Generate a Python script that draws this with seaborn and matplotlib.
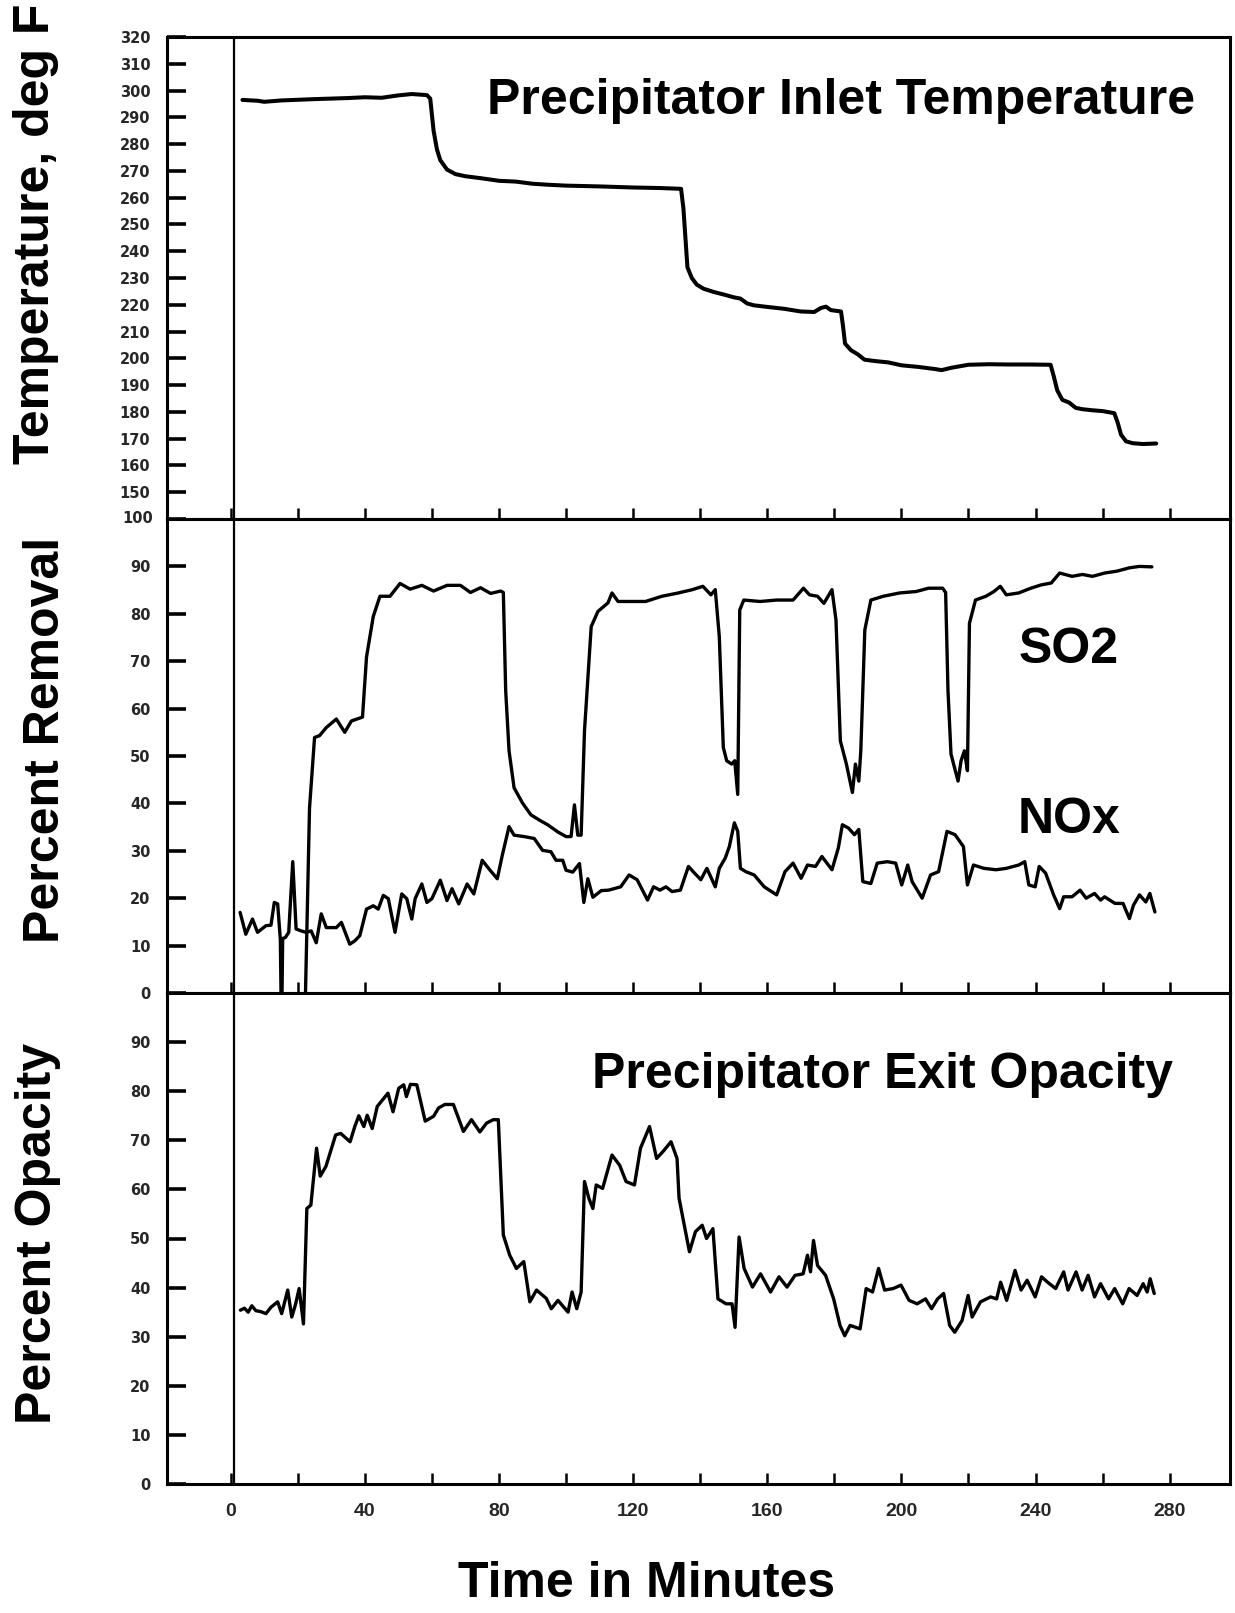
import matplotlib
matplotlib.use("Agg")
import matplotlib.pyplot as plt
import pandas as pd
import seaborn as sns

# ---------------- data ----------------
TEMPERATURE = [(3.5, 296.5), (8, 296.2), (10, 295.8), (15, 296.3), (25, 296.8), (35, 297.2),
               (40, 297.5), (45, 297.3), (50, 298.2), (54, 298.7), (58.5, 298.3), (59.5, 297),
               (60.5, 285), (61.5, 278), (62.5, 274), (64.5, 270.5), (67, 268.8), (70, 268),
               (75, 267.2), (80, 266.3), (85, 266), (90, 265.2), (95, 264.8), (100, 264.5),
               (110, 264.2), (120, 263.8), (128, 263.6), (134.3, 263.3), (135, 256), (135.6, 245),
               (136.2, 234), (137.5, 230), (139, 227.5), (141, 226), (144, 224.8), (148, 223.5),
               (150, 222.8), (152, 222.3), (154, 220.5), (156, 219.8), (160, 219.2), (165, 218.5),
               (170, 217.5), (174, 217.3), (176, 218.8), (177.5, 219.3), (179, 218), (182, 217.5),
               (182.6, 212), (183.2, 205.5), (185, 203), (187, 201.5), (189, 199.5), (192, 199),
               (196, 198.5), (200, 197.4), (205, 196.8), (210, 196), (212, 195.6), (215, 196.5),
               (220, 197.6), (226, 197.8), (232, 197.7), (238, 197.7), (244.5, 197.6), (245.5, 193),
               (246.5, 188), (248, 184.5), (250, 183.5), (252, 181.5), (254, 181), (257, 180.6),
               (260, 180.3), (263.5, 179.5), (264.5, 176), (265.5, 171.5), (267, 169), (269, 168.3),
               (272, 168), (276, 168.2)]

SO2 = [(22.3, 0), (23.5, 39), (25.0, 53.9), (26.5, 54.3), (28.5, 56), (31.5, 57.8), (34, 55),
       (36, 57.4), (39.3, 58.2), (40.5, 70.9), (42.5, 79.4), (44.5, 83.7), (47.5, 83.7),
       (50.5, 86.4), (53.5, 85.2), (57, 86), (60.5, 84.8), (64.5, 86), (68.5, 86), (71.5, 84.5),
       (74.5, 85.5), (77.5, 84.3), (80.5, 84.8), (81.3, 84.5), (82, 63.8), (83, 51.1), (84.5, 43.3),
       (87, 40.1), (89.5, 37.6), (92, 36.5), (94.5, 35.5), (97.5, 34), (100, 33), (101.5, 33),
       (102.5, 39.7), (103.5, 33.3), (104.5, 33.3), (105.5, 55.3), (107.5, 77.3), (109.5, 80.5),
       (112.5, 82.3), (113.7, 84.4), (115.5, 82.6), (119.5, 82.6), (123.7, 82.6), (128.6, 83.7),
       (133.5, 84.4), (137.7, 85.1), (140.8, 85.8), (143.2, 84), (144.5, 85.1), (145.7, 75.2),
       (146.9, 51.8), (147.9, 49), (149.4, 48.3), (150.3, 49), (151.2, 41.9), (151.8, 80.8),
       (153, 82.9), (157.9, 82.6), (162.8, 82.9), (167.7, 82.9), (170.8, 85.4), (172.6, 84),
       (175, 83.7), (176.9, 82.2), (179.3, 85.1), (180.5, 78.7), (181.8, 53.2), (183.6, 48.3),
       (185.4, 42.3), (186.3, 48.3), (187.3, 44.7), (187.9, 51.1), (189.1, 76.6), (190.9, 82.9),
       (194.6, 83.7), (199.5, 84.4), (204.4, 84.7), (208.1, 85.4), (212.3, 85.4), (213.2, 84.5),
       (213.9, 63.8), (214.8, 50.4), (216.9, 44.7), (217.8, 49), (218.8, 51.1), (219.7, 46.9),
       (220.3, 78), (222.1, 82.9), (225.2, 83.7), (227.6, 84.7), (229.5, 85.8), (231.3, 84),
       (235, 84.4), (238.6, 85.4), (241.7, 86.1), (244.7, 86.5), (247.2, 88.6), (250.9, 87.9),
       (254, 88.3), (257, 87.9), (260.6, 88.6), (264.3, 89), (268, 89.7), (271, 90), (274.7, 89.9)]

NOX = [(2.8, 17), (4.5, 12.4), (6.5, 15.6), (8, 12.8), (10.5, 14.2), (12, 14.3), (13, 19.1),
       (14, 18.8), (14.8, 11.3), (15.0, 0), (15.3, 0), (15.5, 11.5), (16.3, 11.7), (17.3, 12.8),
       (18.5, 27.7), (19.5, 13.5), (21, 13.1), (22.5, 12.8), (24, 13.1), (25.5, 10.6), (27, 16.7),
       (28.5, 13.8), (31.5, 13.8), (33, 14.9), (35.5, 10.3), (37, 11), (38.5, 12.1), (40.5, 17.7),
       (42.5, 18.4), (44, 17.7), (45.5, 20.6), (47, 19.9), (49, 12.8), (51, 20.9), (52.5, 19.9),
       (54, 15.6), (55, 19.9), (57, 23), (58.5, 19.1), (60, 19.9), (62.5, 23.8), (64.5, 19.5),
       (66, 22), (68, 18.8), (70.5, 23), (72.5, 20.9), (75, 28), (77, 26.2), (79.5, 24.1),
       (81, 29.1), (83, 35.1), (84.5, 33.3), (87.5, 33), (90.5, 32.6), (93, 30.1), (95.5, 29.8),
       (97, 28), (99, 28), (100, 25.9), (102, 25.5), (104, 27.3), (105.3, 19.1), (106.5, 24.1),
       (108, 20.2), (110.5, 21.6), (112.7, 21.7), (116.3, 22.4), (118.8, 24.9), (121.2, 23.9),
       (124.3, 19.6), (126.1, 22.4), (128, 21.7), (129.8, 22.4), (131.6, 21.4), (134.1, 21.7),
       (136.5, 26.7), (138.3, 25.3), (140.2, 23.9), (142, 26.3), (144.5, 22.4), (145.7, 26.3),
       (147.5, 28.5), (148.7, 30.9), (150.2, 35.9), (151.2, 34.1), (152, 26.3), (153.6, 25.6),
       (156.1, 24.9), (159.1, 22.4), (162.8, 20.7), (165.3, 25.6), (167.7, 27.4), (170.1, 24.2),
       (172, 27), (174.4, 26.7), (176.3, 28.8), (179.3, 26), (181.2, 30.6), (182.4, 35.5),
       (184.2, 34.8), (186, 33.4), (187.3, 34.5), (188.5, 23.5), (190.9, 23.1), (192.8, 27.4),
       (195.8, 27.7), (198.3, 27.4), (200.1, 22.8), (201.9, 27), (203.2, 23.5), (206.2, 20),
       (208.7, 24.9), (211.1, 25.6), (213.6, 34.1), (216, 33.4), (218.5, 30.9), (219.7, 22.8),
       (221.5, 27), (224.6, 26.3), (228.2, 26), (231.3, 26.3), (235, 27), (236.8, 27.7),
       (238, 22.8), (239.9, 22.4), (241.1, 26.7), (243, 25.3), (245.4, 20.7), (247.2, 17.8),
       (248.4, 20.3), (250.9, 20.3), (253.3, 21.7), (255.1, 20), (257.6, 21), (259.4, 19.6),
       (260.6, 20.3), (263.7, 18.9), (266.1, 18.9), (268, 15.7), (269.2, 18.5), (271, 20.7),
       (272.9, 19.2), (274.1, 21), (275.6, 17.1)]

OPACITY = [(2.9, 35.4), (4.1, 35.8), (5.2, 35.0), (6.3, 36.3), (7.5, 35.3), (9, 35.1), (10.5, 34.7),
           (12, 36.0), (14, 37.1), (15.2, 34.7), (17, 39.5), (18.2, 34.0), (19.3, 36.5), (20.4, 39.8),
           (21.7, 32.6), (22.7, 56.1), (23.9, 56.8), (25.6, 68.4), (26.7, 62.7), (28.4, 64.7),
           (31.3, 71.1), (32.8, 71.4), (35.6, 69.7), (37, 72.8), (38.2, 75), (39.7, 72.8),
           (40.7, 75.1), (42.2, 72.4), (43.7, 76.9), (45.7, 78.6), (46.9, 79.6), (48.4, 75.8),
           (50.1, 80.6), (51.6, 81.3), (52.4, 78.9), (53.6, 81.4), (55.5, 81.3), (58, 73.9),
           (60.5, 74.9), (62, 76.6), (63.9, 77.3), (66.4, 77.3), (69.4, 71.8), (71.8, 74.2),
           (74.3, 71.7), (76.3, 73.5), (78.3, 74.2), (79.8, 74.2), (80.3, 66.4), (81.3, 50.7),
           (83.2, 46.6), (85.2, 43.9), (87.4, 45.3), (89.2, 37.1), (91.2, 39.5), (94.1, 37.8),
           (95.6, 35.7), (97.6, 37.4), (100.6, 35), (101.8, 39.1), (103.2, 35.7), (104.5, 39.1),
           (105.5, 61.6), (106.8, 58.2), (108, 56.1), (109, 60.9), (110.9, 60.2), (113.7, 67),
           (116, 64.9), (117.9, 61.6), (120.4, 60.9), (122.2, 68.4), (124.9, 72.8), (127, 66.3),
           (128.9, 67.7), (131.3, 69.7), (133.1, 66.3), (133.7, 58.2), (136.8, 47.3), (138.6, 51.4),
           (140.6, 52.7), (141.9, 50), (143.8, 52), (145.3, 37.7), (147.7, 36.7), (149.5, 36.7),
           (150.4, 31.9), (151.6, 50.3), (153.1, 43.9), (155.6, 40.1), (158, 42.8), (161, 39.1),
           (163.5, 42.2), (165.9, 40.1), (168.3, 42.5), (170.7, 42.8), (172, 46.6), (172.9, 43.2),
           (173.8, 49.6), (175, 44.5), (177.4, 42.5), (179.8, 37.7), (181.7, 32.3), (183.1, 30.2),
           (184.7, 32.3), (187.7, 31.6), (189.5, 39.8), (191.4, 39.1), (193.2, 43.9), (195, 39.5),
           (197.5, 39.8), (199.9, 40.5), (202.3, 37.4), (204.7, 36.7), (207.2, 37.7), (209, 35.7),
           (210.8, 37.7), (212.6, 38.8), (214.4, 32.3), (215.9, 30.9), (218.1, 33.3), (219.9, 38.4),
           (221.1, 34), (223.6, 37.1), (226.6, 38.1), (228.4, 37.7), (229.6, 41.1), (231.4, 37.4),
           (233.9, 43.5), (235.7, 39.5), (237.5, 41.5), (239.9, 38.1), (241.8, 42.2), (243.6, 41.1),
           (246, 39.8), (248.4, 43.2), (249.7, 39.5), (252.1, 43.2), (253.9, 39.5), (255.7, 42.5),
           (257.6, 38.1), (259.4, 40.8), (261.8, 37.7), (263.6, 39.8), (266, 36.7), (267.9, 39.8),
           (270.3, 38.4), (272.1, 40.8), (273.3, 39.1), (274.2, 41.8), (275.4, 38.8)]

X_TICKS = list(range(0, 281, 20))
X_LABELS = ["0", "", "40", "", "80", "", "120", "", "160", "", "200", "", "240", "", "280"]
TEMP_TICKS = list(range(150, 321, 10))
TEMP_LABELS = [str(v) for v in TEMP_TICKS]
TEMP_BOTTOM_LABEL = "100"
REMOVAL_TICKS = list(range(0, 101, 10))
OPACITY_TICKS = list(range(0, 91, 10))
START_MARK = 1.0  # vertical reference line (minutes)

# ---------------- figure ----------------
sns.set_theme(style="white")
plt.rcParams["font.family"] = ["Liberation Sans", "DejaVu Sans"]

W, H = 1235, 1613
fig = plt.figure(figsize=(W / 100, H / 100), dpi=100)


def box(l, t, r, b):
    return [l / W, 1 - b / H, (r - l) / W, (b - t) / H]


ax1 = fig.add_axes(box(167, 37, 1230, 519))
ax2 = fig.add_axes(box(167, 519, 1230, 993))
ax3 = fig.add_axes(box(167, 993, 1230, 1484))


def frame(pairs):
    return pd.DataFrame(pairs, columns=["t", "v"])


LW = 2.4
sns.lineplot(data=frame(TEMPERATURE), x="t", y="v", ax=ax1, color="black",
             lw=LW + 0.5, estimator=None, sort=False)
sns.lineplot(data=frame(SO2), x="t", y="v", ax=ax2, color="black",
             lw=LW, estimator=None, sort=False)
sns.lineplot(data=frame(NOX), x="t", y="v", ax=ax2, color="black",
             lw=LW, estimator=None, sort=False)
sns.lineplot(data=frame(OPACITY), x="t", y="v", ax=ax3, color="black",
             lw=LW, estimator=None, sort=False)

tick_font = dict(family=["DejaVu Sans"], weight="bold", size=10.5)

for ax in (ax1, ax2, ax3):
    ax.set_xlim(-19, 298)
    ax.axvline(START_MARK, color="black", lw=1.6, zorder=1)
    for s in ax.spines.values():
        s.set_visible(True)
        s.set_color("black")
        s.set_linewidth(2.2)
    ax.set_xlabel("")
    ax.set_ylabel("")
    ax.grid(False)

ax1.set_ylim(140, 320)
ax2.set_ylim(0, 100)
ax3.set_ylim(0, 100)

ax1.set_yticks(TEMP_TICKS)
ax1.set_yticklabels(TEMP_LABELS, fontdict=tick_font)
ax2.set_yticks(REMOVAL_TICKS)
ax2.set_yticklabels([str(v) if v < 100 else "" for v in REMOVAL_TICKS], fontdict=tick_font)
ax3.set_yticks(OPACITY_TICKS)
ax3.set_yticklabels([str(v) for v in OPACITY_TICKS], fontdict=tick_font)

for ax in (ax1, ax2, ax3):
    ax.set_xticks(X_TICKS)
ax1.set_xticklabels([])
ax2.set_xticklabels([])
ax3.set_xticklabels(X_LABELS, fontdict=dict(weight="bold", size=14))

ax1.text(-0.013, 0.0, TEMP_BOTTOM_LABEL, transform=ax1.transAxes, ha="right", va="center",
         fontdict=tick_font)

for ax in (ax1, ax2, ax3):
    ax.tick_params(axis="y", which="major", left=True, direction="in", length=14, width=2.6,
                   color="black", pad=12)
    ax.tick_params(axis="x", which="major", bottom=True, direction="in", length=8, width=1.8,
                   color="black", pad=14)

big = dict(weight="bold", size=36, color="black")
ax1.text(0.634, 0.867, "Precipitator Inlet Temperature", transform=ax1.transAxes,
         ha="center", va="center", **big)
ax3.text(0.673, 0.833, "Precipitator Exit Opacity", transform=ax3.transAxes,
         ha="center", va="center", **big)
ax2.text(250, 72.3, "SO2", ha="center", va="center", **big)
ax2.text(250, 36.6, "NOx", ha="center", va="center", **big)

fig.text(36 / W, 1 - 234 / H, "Temperature, deg F", rotation=90, ha="center", va="center", **big)
fig.text(46 / W, 1 - 740 / H, "Percent Removal", rotation=90, ha="center", va="center", **big)
fig.text(38 / W, 1 - 1234 / H, "Percent Opacity", rotation=90, ha="center", va="center", **big)
fig.text(646 / W, 1 - 1584 / H, "Time in Minutes", ha="center", va="center", **big)

fig.savefig("out.png", dpi=100, facecolor="white")
